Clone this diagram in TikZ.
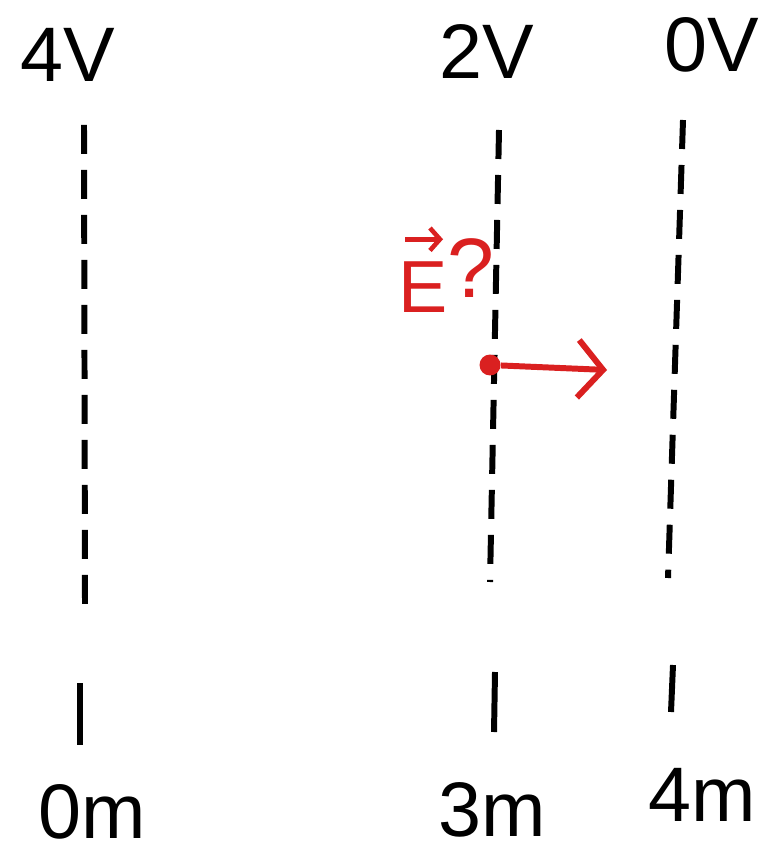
\documentclass[tikz,border=0pt]{standalone}
\usepackage{fontspec}
\setmainfont{Liberation Sans}
\usetikzlibrary{arrows.meta}

\definecolor{fieldred}{RGB}{218,32,32}

\begin{document}
\begin{tikzpicture}[
    x=0.02cm, y=-0.02cm,
    plate/.style={line width=3.4pt, dash pattern=on 0.58cm off 0.32cm},
    stub/.style={line width=3.4pt},
    bigtext/.style={font=\fontsize{44}{50}\selectfont, inner sep=0pt},
    redtext/.style={font=\fontsize{42}{48}\selectfont, text=fieldred, inner sep=0pt},
    charge/.style={circle, fill=fieldred, inner sep=0pt, minimum size=0.42cm},
    field/.style={fieldred, line width=3.4pt, -{Straight Barb[length=0.5cm, width=1.15cm]}},
]

% Frame: same size as the sheet
\useasboundingbox (0,0) rectangle (763,857);

% Potentials on top
\node[bigtext] (v4) at (68,55) {4V};
\node[bigtext] (v2) at (487,52) {2V};
\node[bigtext] (v0) at (712,45) {0V};

% Positions at bottom
\node[bigtext] (x0) at (92,812) {0m};
\node[bigtext] (x3) at (492,810) {3m};
\node[bigtext] (x4) at (702,795) {4m};

% Equipotential lines (dashed) and the stubs below them
\coordinate (a1) at (84,125);  \coordinate (a2) at (85,605);
\coordinate (a3) at (80,683);  \coordinate (a4) at (80,745);
\coordinate (b1) at (499,130); \coordinate (b2) at (490,582);
\coordinate (b3) at (495,672); \coordinate (b4) at (494,732);
\coordinate (c1) at (683,120); \coordinate (c2) at (668,578);
\coordinate (c3) at (673,665); \coordinate (c4) at (671,712);

\draw[plate] (a1) -- (a2);
\draw[plate] (b1) -- (b2);
\draw[plate] (c1) -- (c2);
\draw[stub] (a3) -- (a4);
\draw[stub] (b3) -- (b4);
\draw[stub] (c3) -- (c4);

% Field at the 3 m line
\node[charge] (q) at (490,365) {};
\coordinate (tip) at (607,370);
\draw[field] (q) -- (tip);

% Label: E with vector arrow, then ?
\node[redtext] (elabel) at (423,287) {E};
\node[redtext, font=\fontsize{48}{54}\selectfont] (qmark) at (471,268) {?};
\draw[fieldred, line width=2.6pt, -{Straight Barb[length=0.2cm, width=0.45cm]}]
    ([shift={(-18,-22)}]elabel.north) -- ++(38,0);

\end{tikzpicture}
\end{document}
